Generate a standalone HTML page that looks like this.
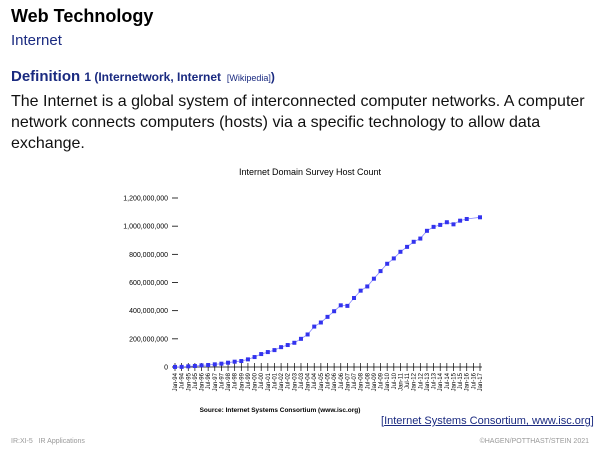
<!DOCTYPE html>
<html><head><meta charset="utf-8"><style>
body{margin:0;width:600px;height:450px;background:#fff;font-family:"Liberation Sans",sans-serif;position:relative;overflow:hidden}
.a{position:absolute;white-space:nowrap}
</style></head><body>
<div class="a" style="left:11px;top:6px;font-size:18px;font-weight:bold;color:#000">Web Technology</div>
<div class="a" style="left:11px;top:32px;font-size:15px;color:#1a2a80">Internet</div>
<div class="a" style="left:11px;top:68px;color:#1a2a80;font-weight:bold;font-size:15px">Definition <span style="font-size:12px">1 (Internetwork, Internet <span style="font-weight:normal;font-size:9px">&nbsp;[Wikipedia]</span>)</span></div>
<div class="a" style="left:11px;top:91px;font-size:16px;line-height:21px;color:#111">The Internet is a global system of interconnected computer networks. A computer<br>network connects computers (hosts) via a specific technology to allow data<br>exchange.</div>
<svg id="chart" class="a" style="left:0;top:0" width="600" height="450"></svg>
<div class="a" style="left:381px;top:415px;font-size:11px;color:#1a2a80">[<span style="text-decoration:underline">Internet Systems Consortium, www.isc.org</span>]</div>
<div class="a" style="left:11px;top:438px;font-size:7px;color:#999">IR:XI-5 &nbsp;&nbsp;IR Applications</div>
<div class="a" style="right:11px;top:438px;font-size:7px;color:#999">©HAGEN/POTTHAST/STEIN 2021</div>
<script>
const values=[0.5,1,4.7,7.1,11.8,14.1,18.9,23.6,30.6,37.7,42.4,54.2,70.7,91.9,106,120,141,156,172,200,231,287,316,356,396,438,434,490,542,572,627,681,733,771,818,853,889,912,967,995,1009,1028,1013,1039,1051,null,1063];
const yTicks=[0,200,400,600,800,1000,1200];
const yTickLabels=["0","200,000,000","400,000,000","600,000,000","800,000,000","1,000,000,000","1,200,000,000"];
const months=["Jan","Jul"];
const NS="http://www.w3.org/2000/svg";
const svg=document.getElementById('chart');
const x=i=>175+i*(305/46);
const y=v=>367-v*(169/1200);
function mk(t,a,p){const e=document.createElementNS(NS,t);for(const k in a)e.setAttribute(k,a[k]);(p||svg).appendChild(e);return e;}
let t=mk('text',{x:310,y:175,'font-size':9,'text-anchor':'middle',fill:'#000'});t.textContent='Internet Domain Survey Host Count';


t=mk('text',{x:280,y:412,'font-size':6.5,'font-weight':'bold','text-anchor':'middle',fill:'#000'});t.textContent='Source: Internet Systems Consortium (www.isc.org)';


yTicks.forEach((v,i)=>{
 const l=mk('line',{x1:172,x2:178,y1:y(v),y2:y(v),stroke:'#000','stroke-width':0.8});
 
 
 const tx=mk('text',{x:168,y:y(v)+2.5,'font-size':7,'text-anchor':'end',fill:'#000'});tx.textContent=yTickLabels[i];
 
 
});
const ax=mk('line',{x1:175,x2:482,y1:367,y2:367,stroke:'#000','stroke-width':0.8});


for(let i=0;i<values.length;i++){
 const tk=mk('line',{x1:x(i),x2:x(i),y1:363,y2:371,stroke:'#000','stroke-width':0.7});
 
 
 const lab=months[i%2]+'-'+String((94+Math.floor(i/2))%100).padStart(2,'0');
 const tx=mk('text',{x:0,y:0,'font-size':6,'text-anchor':'end',fill:'#000',transform:`translate(${x(i)+2},373) rotate(-90)`});tx.textContent=lab;
 
 
}
let d='';values.forEach((v,i)=>{if(v!==null)d+=(d?'L':'M')+x(i)+','+y(v);});
const ln=mk('path',{d:d,fill:'none',stroke:'#8888ff','stroke-width':0.8});


values.forEach((v,i)=>{if(v===null)return;
 const r=mk('rect',{x:x(i)-2,y:y(v)-2,width:4,height:4,fill:'#3333ee'});
 
 
});
</script>
</body></html>
